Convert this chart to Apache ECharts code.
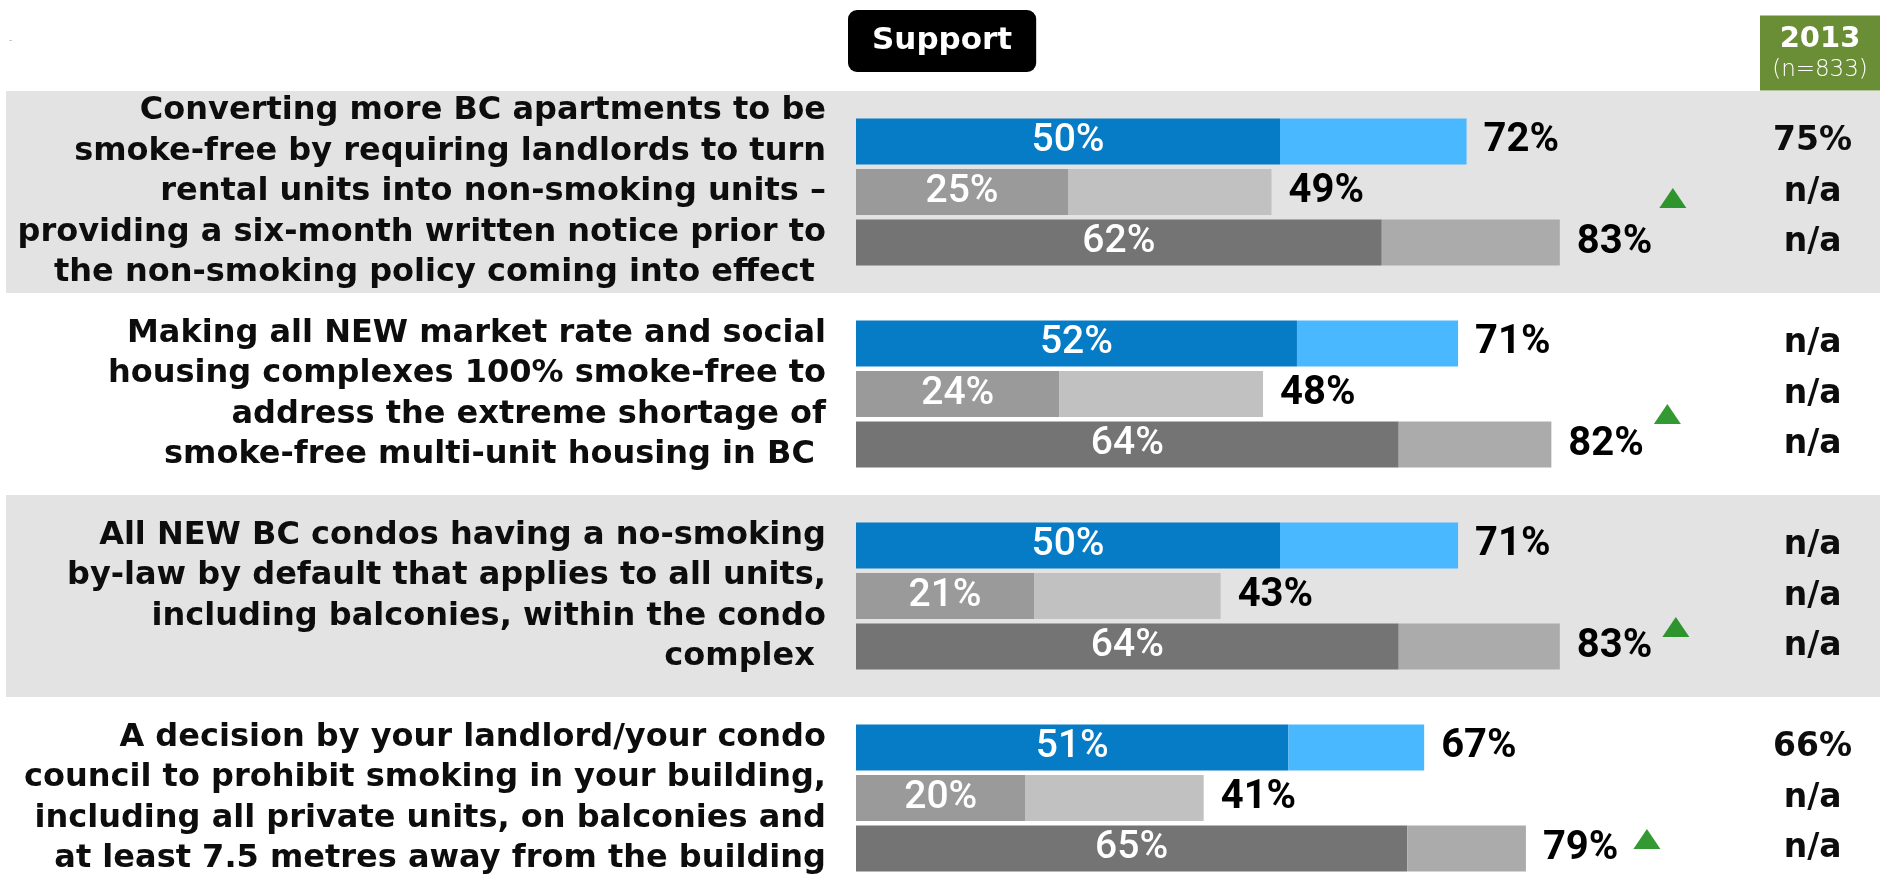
<!DOCTYPE html>
<html>
<head>
<meta charset="utf-8">
<script src="https://cdn.jsdelivr.net/npm/echarts@6/dist/echarts.min.js"></script>
<style>
html,body{margin:0;padding:0;background:#fff;}
#chart{width:1883px;height:886px;}
</style>
</head>
<body>
<div id="chart"></div>
<script>
// ---- data ----
const categories = [
  'Converting more BC apartments to be\nsmoke-free by requiring landlords to turn\nrental units into non-smoking units –\nproviding a six-month written notice prior to\nthe non-smoking policy coming into effect ',
  'Making all NEW market rate and social\nhousing complexes 100% smoke-free to\naddress the extreme shortage of\nsmoke-free multi-unit housing in BC ',
  'All NEW BC condos having a no-smoking\nby-law by default that applies to all units,\nincluding balconies, within the condo\ncomplex ',
  'A decision by your landlord/your condo\ncouncil to prohibit smoking in your building,\nincluding all private units, on balconies and\nat least 7.5 metres away from the building'
];
const row1Strong = [50, 52, 50, 51];
const row1Total  = [72, 71, 71, 67];
const row2Strong = [25, 24, 21, 20];
const row2Total  = [49, 48, 43, 41];
const row3Strong = [62, 64, 64, 65];
const row3Total  = [83, 82, 83, 79];
const support2013 = [[75, null, null], [null, null, null], [null, null, null], [66, null, null]];
const significantUp = [true, true, true, true];

// ---- styles ----
const labelFont = 'DejaVu Sans';
const numFont = "Roboto, sans-serif";
const rows = [
  {strong: row1Strong, total: row1Total, dark: '#067BC6', light: '#4AB8FF'},
  {strong: row2Strong, total: row2Total, dark: '#9A9A9A', light: '#C1C1C1'},
  {strong: row3Strong, total: row3Total, dark: '#747474', light: '#ABABAB'}
];
const triOffset = [[113, 6], [116, 20], [116, 31], [121, 41]];

const series = [];
rows.forEach((r, ri) => {
  series.push({
    type: 'bar', xAxisIndex: 0, yAxisIndex: 0, stack: 'row' + ri,
    barWidth: 46, barGap: '10%',
    itemStyle: {color: r.dark},
    label: {show: true, position: 'inside', formatter: p => p.value + '%',
      color: '#fff', fontFamily: numFont, fontSize: 39, fontWeight: 500},
    data: r.strong
  });
  series.push({
    type: 'bar', xAxisIndex: 0, yAxisIndex: 0, stack: 'row' + ri,
    barWidth: 46, barGap: '10%',
    itemStyle: {color: r.light},
    label: {show: true, position: 'right', distance: 17,
      formatter: p => r.total[p.dataIndex] + '%',
      color: '#000', fontFamily: numFont, fontSize: 40, fontWeight: 'bold'},
    data: r.total.map((t, i) => t - r.strong[i])
  });
});
series.push({
  type: 'scatter', xAxisIndex: 0, yAxisIndex: 0, symbol: 'triangle',
  symbolSize: [27, 20], itemStyle: {color: '#008000'}, z: 5,
  data: row3Total.map((t, i) => significantUp[i] ? {value: [t, i], symbolOffset: triOffset[i]} : null).filter(d => d)
});

const option = {
  animation: false,
  title: [
    {text: 'Support', left: 848, top: 10, backgroundColor: '#000', borderRadius: 9,
     padding: [13, 24, 13, 24],
     textStyle: {color: '#fff', fontFamily: labelFont, fontWeight: 'bold', fontSize: 31, lineHeight: 36}},
    {text: '{a|2013}\n{b|(n=833)}', left: 1760, top: 13, backgroundColor: '#6A8E35',
     padding: [9, 0, 9, 0],
     textStyle: {rich: {
       a: {color: '#fff', fontFamily: labelFont, fontWeight: 'bold', fontSize: 29, lineHeight: 34, width: 120, align: 'center'},
       b: {color: '#fff', fontFamily: labelFont, fontWeight: 200, fontSize: 23, lineHeight: 28, width: 120, align: 'center'}
     }}},
    {text: '-', left: 4, top: 30, textStyle: {color: '#bbb', fontSize: 10, fontWeight: 'normal'}}
  ],
  grid: [
    {left: 856, top: 91, width: 1017.6, height: 808, outerBoundsMode: 'none', containLabel: false},
    {left: 6, top: 91, width: 1874, height: 808, outerBoundsMode: 'none', containLabel: false}
  ],
  xAxis: [
    {type: 'value', gridIndex: 0, min: 0, max: 120, show: false},
    {type: 'value', gridIndex: 1, min: 0, max: 1, show: false}
  ],
  yAxis: [
    {type: 'category', gridIndex: 0, inverse: true, data: categories,
     axisLine: {show: false}, axisTick: {show: false}, splitLine: {show: false},
     axisLabel: {margin: 30, fontFamily: labelFont, fontWeight: 'bold', fontSize: 32, lineHeight: 40.5, color: '#0d0d0d', align: 'right'}},
    {type: 'category', gridIndex: 0, position: 'right', inverse: true, data: categories,
     axisLine: {show: false}, axisTick: {show: false}, splitLine: {show: false},
     axisLabel: {margin: -61, align: 'center', fontFamily: labelFont, fontWeight: 'bold', fontSize: 33, lineHeight: 50.5, color: '#0d0d0d',
       formatter: (v, idx) => support2013[idx].map(x => x == null ? 'n/a' : x + '%').join('\n')}},
    {type: 'category', gridIndex: 1, inverse: true, data: categories,
     axisLine: {show: false}, axisTick: {show: false}, axisLabel: {show: false}, splitLine: {show: false},
     splitArea: {show: true, areaStyle: {color: ['#E3E3E3', '#FFFFFF']}}}
  ],
  series: series
};
const chart = echarts.init(document.getElementById('chart'));
chart.setOption(option);
</script>
</body>
</html>
